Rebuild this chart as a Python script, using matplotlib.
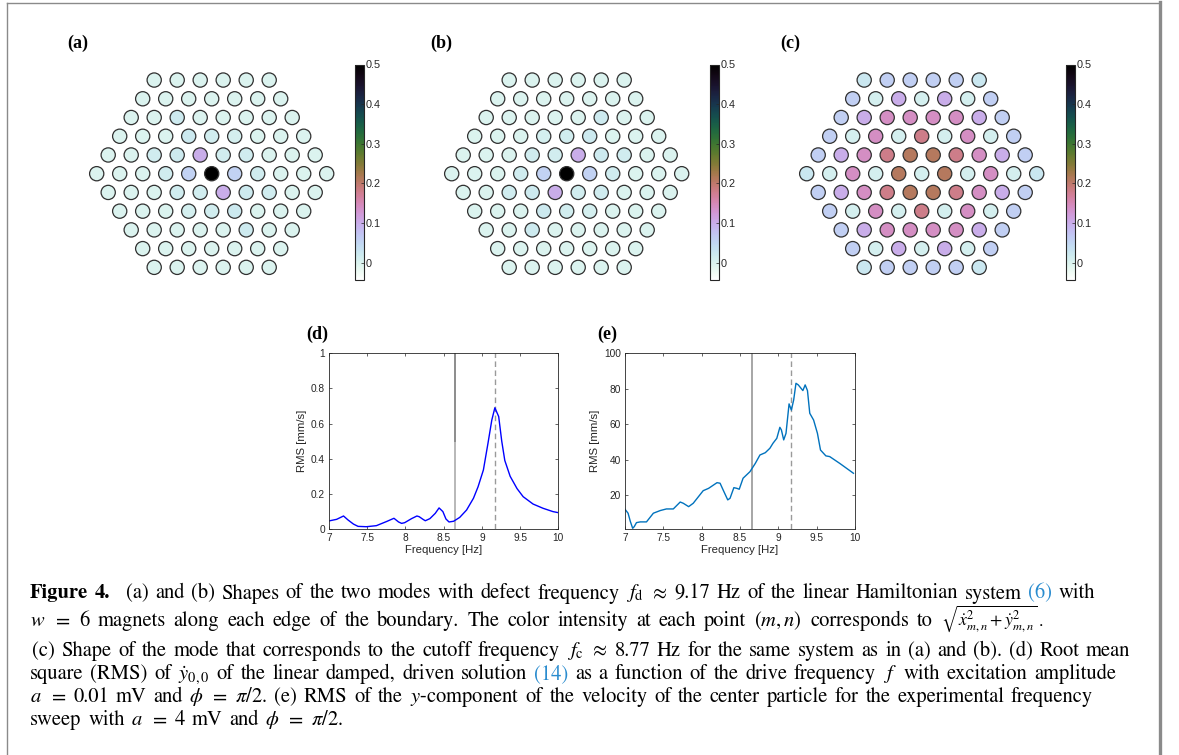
import matplotlib
matplotlib.use("Agg")
import matplotlib.pyplot as plt
from matplotlib.colors import Normalize
from matplotlib.cm import ScalarMappable
from matplotlib.lines import Line2D

plt.rcParams["mathtext.fontset"] = "stix"

W, H = 1179, 755

# ---------------- data ----------------
# hexagonal lattice, w = 6 magnets per edge: rows from top (r=5) to bottom (r=-5)
row_index = [5, 4, 3, 2, 1, 0, -1, -2, -3, -4, -5]

mode_a = [
    [0.0, 0.0, 0.0, 0.0, 0.0, 0.0],
    [0.0, 0.0, 0.0, 0.0, 0.0, 0.0, 0.0],
    [0.0, 0.0, 0.018, 0.0, 0.0, 0.0, 0.0, 0.0],
    [0.0, 0.0, 0.0, 0.02, 0.012, 0.008, 0.0, 0.0, 0.0],
    [0.0, 0.0, 0.015, 0.018, 0.100, 0.012, 0.015, 0.0, 0.0, 0.0],
    [0.0, 0.0, 0.0, 0.015, 0.055, 0.500, 0.055, 0.015, 0.0, 0.0, 0.0],
    [0.0, 0.0, 0.0, 0.015, 0.012, 0.100, 0.018, 0.015, 0.0, 0.0],
    [0.0, 0.0, 0.0, 0.008, 0.012, 0.02, 0.0, 0.0, 0.0],
    [0.0, 0.0, 0.0, 0.0, 0.0, 0.018, 0.0, 0.0],
    [0.0, 0.0, 0.0, 0.0, 0.0, 0.0, 0.0],
    [0.0, 0.0, 0.0, 0.0, 0.0, 0.0],
]

mode_b = [
    [0.0, 0.0, 0.0, 0.0, 0.0, 0.0],
    [0.0, 0.0, 0.0, 0.0, 0.0, 0.0, 0.0],
    [0.0, 0.0, 0.0, 0.0, 0.0, 0.018, 0.0, 0.0],
    [0.0, 0.0, 0.0, 0.008, 0.012, 0.02, 0.0, 0.0, 0.0],
    [0.0, 0.0, 0.0, 0.015, 0.012, 0.100, 0.018, 0.015, 0.0, 0.0],
    [0.0, 0.0, 0.0, 0.015, 0.055, 0.500, 0.055, 0.015, 0.0, 0.0, 0.0],
    [0.0, 0.0, 0.015, 0.018, 0.100, 0.012, 0.015, 0.0, 0.0, 0.0],
    [0.0, 0.0, 0.0, 0.02, 0.012, 0.008, 0.0, 0.0, 0.0],
    [0.0, 0.0, 0.018, 0.0, 0.0, 0.0, 0.0, 0.0],
    [0.0, 0.0, 0.0, 0.0, 0.0, 0.0, 0.0],
    [0.0, 0.0, 0.0, 0.0, 0.0, 0.0],
]

mode_c = [
    [0.025, 0.06, 0.06, 0.06, 0.06, 0.025],
    [0.06, 0.008, 0.10, 0.008, 0.10, 0.008, 0.06],
    [0.06, 0.10, 0.14, 0.14, 0.14, 0.14, 0.10, 0.06],
    [0.06, 0.008, 0.14, 0.008, 0.18, 0.008, 0.14, 0.008, 0.06],
    [0.06, 0.10, 0.14, 0.18, 0.21, 0.21, 0.18, 0.14, 0.10, 0.06],
    [0.025, 0.008, 0.14, 0.008, 0.21, 0.008, 0.21, 0.008, 0.14, 0.008, 0.025],
    [0.06, 0.10, 0.14, 0.18, 0.21, 0.21, 0.18, 0.14, 0.10, 0.06],
    [0.06, 0.008, 0.14, 0.008, 0.18, 0.008, 0.14, 0.008, 0.06],
    [0.06, 0.10, 0.14, 0.14, 0.14, 0.14, 0.10, 0.06],
    [0.06, 0.008, 0.10, 0.008, 0.10, 0.008, 0.06],
    [0.025, 0.06, 0.06, 0.06, 0.06, 0.025],
]

cbar_ticks = [0, 0.1, 0.2, 0.3, 0.4, 0.5]
cbar_labels = ["0", "0.1", "0.2", "0.3", "0.4", "0.5"]

# simulated response of the linear damped driven system
d_freq = [7.0, 7.1, 7.19, 7.25, 7.32, 7.38, 7.49, 7.62, 7.75, 7.85, 7.91, 7.95,
          7.99, 8.08, 8.15, 8.18, 8.23, 8.26, 8.32, 8.39, 8.44, 8.49, 8.53, 8.57,
          8.63, 8.71, 8.8, 8.89, 8.95, 9.02, 9.08, 9.13, 9.17, 9.22, 9.26, 9.3,
          9.37, 9.46, 9.54, 9.67, 9.8, 9.93, 10.0]
d_rms = [0.046, 0.055, 0.074, 0.051, 0.028, 0.015, 0.013, 0.019, 0.042, 0.061, 0.040, 0.032,
         0.036, 0.059, 0.074, 0.070, 0.055, 0.047, 0.059, 0.089, 0.120, 0.099, 0.057, 0.040,
         0.044, 0.066, 0.108, 0.175, 0.240, 0.336, 0.488, 0.620, 0.690, 0.640, 0.500, 0.390,
         0.300, 0.230, 0.184, 0.142, 0.118, 0.099, 0.093]

# experimental frequency sweep
e_freq = [7.0, 7.04, 7.07, 7.1, 7.12, 7.15, 7.2, 7.28, 7.37, 7.46, 7.54, 7.63, 7.72,
          7.76, 7.83, 7.89, 8.02, 8.09, 8.2, 8.24, 8.28, 8.34, 8.37, 8.42, 8.46, 8.49,
          8.54, 8.63, 8.7, 8.76, 8.83, 8.89, 8.93, 8.98, 9.02, 9.04, 9.07, 9.1, 9.14,
          9.17, 9.2, 9.23, 9.26, 9.32, 9.35, 9.38, 9.41, 9.46, 9.51, 9.55, 9.62, 9.67,
          9.8, 9.89, 9.98]
e_rms = [12.1, 9.9, 5.2, 1.4, 2.3, 4.6, 5.0, 5.0, 9.9, 11.4, 12.3, 12.3, 16.2,
         15.5, 13.6, 15.5, 22.6, 23.9, 27.1, 26.8, 23.0, 17.4, 18.3, 24.3, 23.9, 23.4,
         29.6, 33.3, 38.0, 42.7, 44.0, 46.5, 49.3, 52.1, 58.3, 56.8, 51.2, 54.9, 71.5,
         68.0, 73.7, 83.1, 82.2, 79.0, 82.2, 79.0, 66.2, 62.4, 54.9, 45.5, 42.2, 41.8,
         38.0, 35.2, 32.4]

f_cut = 8.65
f_defect = 9.17

# ---------------- figure ----------------
fig = plt.figure(figsize=(W / 100, H / 100), dpi=100)


def rect(left, top, right, bottom):
    return [left / W, 1 - bottom / H, (right - left) / W, (bottom - top) / H]


cmap = plt.get_cmap("cubehelix_r")
norm = Normalize(vmin=-0.044, vmax=0.5)
axis_col = "#262626"
sans = "Liberation Sans"
serif_bold = dict(fontsize=13, fontweight="bold", family="Liberation Serif")


def lattice(ax, values):
    xs, ys, cs = [], [], []
    for r, row in zip(row_index, values):
        n = len(row)
        for i, v in enumerate(row):
            xs.append(i - (n - 1) / 2)
            ys.append(r)
            cs.append(v)
    ax.scatter(xs, ys, c=cs, cmap=cmap, norm=norm, s=105,
               edgecolors="#303030", linewidths=0.9)
    ax.set_xlim(-5.6, 5.6)
    ax.set_ylim(-5.6, 5.6)
    ax.axis("off")


centers = [211.7, 566.7, 921.7]
cbar_left = [355, 710, 1066]
labels_top = ["(a)", "(b)", "(c)"]
label_x = [67, 430, 780]
for k, vals in enumerate([mode_a, mode_b, mode_c]):
    cx = centers[k]
    ax = fig.add_axes(rect(cx - 5.6 * 23, 173.7 - 5.6 * 18.73,
                           cx + 5.6 * 23, 173.7 + 5.6 * 18.73))
    lattice(ax, vals)
    cax = fig.add_axes(rect(cbar_left[k], 64.5, cbar_left[k] + 9, 280))
    cb = fig.colorbar(ScalarMappable(norm=norm, cmap=cmap), cax=cax, ticks=cbar_ticks)
    cb.ax.set_yticklabels(cbar_labels)
    cb.ax.tick_params(labelsize=7.8, length=2, width=0.5, direction="in",
                      colors=axis_col, pad=1.5)
    for t in cb.ax.get_yticklabels():
        t.set_fontfamily(sans)
    cb.outline.set_linewidth(0.8)
    cb.outline.set_edgecolor(axis_col)
    fig.text(label_x[k] / W, 1 - 43 / H, labels_top[k], va="center", ha="left",
             **serif_bold)


def style_axes(ax):
    ax.tick_params(direction="in", length=2.5, width=0.5, labelsize=7.3,
                   colors=axis_col, top=True, right=True, pad=3)
    for s in ax.spines.values():
        s.set_linewidth(0.6)
        s.set_edgecolor(axis_col)
    for t in ax.get_xticklabels() + ax.get_yticklabels():
        t.set_fontfamily(sans)
    ax.set_xlabel("Frequency [Hz]", fontsize=8.2, family=sans,
                  color=axis_col, labelpad=1)
    ax.set_ylabel("RMS [mm/s]", fontsize=8.2, family=sans,
                  color=axis_col, labelpad=3)


freq_ticks = [7, 7.5, 8, 8.5, 9, 9.5, 10]
freq_labels = ["7", "7.5", "8", "8.5", "9", "9.5", "10"]

# (d) simulation
axd = fig.add_axes(rect(329, 353.3, 558.3, 529))
axd.axvline(f_cut, ymin=0, ymax=0.5, color="#b8b8b8", lw=1.4)
axd.axvline(f_cut, ymin=0.5, ymax=1, color="#8c8c8c", lw=1.4)
axd.axvline(f_defect, color="#9a9a9a", lw=1.0, ls=(0, (4, 2.5)))
axd.plot(d_freq, d_rms, color="#0000ff", lw=1.0)
axd.set_xlim(7, 10)
axd.set_ylim(0, 1)
axd.set_xticks(freq_ticks, freq_labels)
axd.set_yticks([0, 0.2, 0.4, 0.6, 0.8, 1], ["0", "0.2", "0.4", "0.6", "0.8", "1"])
style_axes(axd)
fig.text(306 / W, 1 - 334 / H, "(d)", va="center", ha="left", **serif_bold)

# (e) experiment
axe = fig.add_axes(rect(625, 353.3, 855, 529))
axe.axvline(f_cut, color="#a6a6a6", lw=1.4)
axe.axvline(f_defect, color="#9a9a9a", lw=1.0, ls=(0, (4, 2.5)))
axe.plot(e_freq, e_rms, color="#0072bd", lw=1.0)
axe.set_xlim(7, 10)
axe.set_ylim(1, 100)
axe.set_xticks(freq_ticks, freq_labels)
axe.set_yticks([20, 40, 60, 80, 100], ["20", "40", "60", "80", "100"])
style_axes(axe)
fig.text(597 / W, 1 - 334 / H, "(e)", va="center", ha="left", **serif_bold)

# page frame
frame = "#8a8a8a"
fig.add_artist(Line2D([6.5 / W, 1160 / W], [1 - 2.5 / H, 1 - 2.5 / H],
                      transform=fig.transFigure, color=frame, lw=1.0))
fig.add_artist(Line2D([6.5 / W, 6.5 / W], [0, 1 - 2.5 / H],
                      transform=fig.transFigure, color=frame, lw=1.0))
fig.add_artist(Line2D([1160.3 / W, 1160.3 / W], [0, 1 - 2 / H],
                      transform=fig.transFigure, color=frame, lw=2.4))

# ---------------- caption (justified word by word) ----------------
cap_size = 14.8
cap_font = "STIXGeneral"
blue = "#2a8ccf"
renderer = fig.canvas.get_renderer()


def words(s, gap=1.0, **kw):
    out, cur, in_math = [], "", False
    for ch in s:
        if ch == "$":
            in_math = not in_math
        if ch == " " and not in_math:
            if cur:
                out.append(cur)
            cur = ""
        else:
            cur += ch
    if cur:
        out.append(cur)
    return [(w, gap if i == 0 else 1.0, kw) for i, w in enumerate(out)]


def caption_line(base_px, tokens, x_start, x_end):
    arts = []
    for text, g, kw in tokens:
        style = dict(fontsize=cap_size, family=cap_font, va="baseline", ha="left")
        style.update(kw)
        t = fig.text(0, 1 - base_px / H, text, **style)
        arts.append((t, g, t.get_window_extent(renderer).width))
    total_w = sum(a[2] for a in arts)
    total_g = sum(a[1] for a in arts[1:])
    unit = (x_end - x_start - total_w) / total_g
    x = x_start
    for i, (t, g, w) in enumerate(arts):
        if i > 0:
            x += g * unit
        t.set_x(x / W)
        x += w


x0 = 30
caption_line(598.5,
             words("Figure 4.", fontweight="bold")
             + words(r"(a) and (b) Shapes of the two modes with defect frequency "
                     r"$f_\mathrm{d}$ $\approx$ 9.17 Hz of the linear Hamiltonian system", gap=2.4)
             + words("(6)", color=blue) + words("with"),
             x0, 1095)
caption_line(626,
             words(r"$w$ $=$ 6 magnets along each edge of the boundary. The color "
                   r"intensity at each point $(m, n)$ corresponds to")
             + words(r"$\sqrt{\dot{x}^{2}_{m,n} + \dot{y}^{2}_{m,n}}\,$.", fontsize=12.8),
             x0, 1043)
caption_line(656,
             words(r"(c) Shape of the mode that corresponds to the cutoff frequency "
                   r"$f_\mathrm{c}$ $\approx$ 8.77 Hz for the same system as in (a) and (b). "
                   r"(d) Root mean"),
             x0 + 2, 1130)
caption_line(679,
             words(r"square (RMS) of $\dot{y}_{0,0}$ of the linear damped, driven solution")
             + words("(14)", color=blue)
             + words(r"as a function of the drive frequency $f$ with excitation amplitude"),
             x0, 1116)
caption_line(702,
             words(r"$a$ $=$ 0.01 mV and $\phi$ $=$ $\pi/2$. (e) RMS of the $y$-component "
                   r"of the velocity of the center particle for the experimental frequency"),
             x0, 1093)
caption_line(725,
             words(r"sweep with $a$ $=$ 4 mV and $\phi$ $=$ $\pi/2$."),
             x0, 343)

fig.savefig("out.png", dpi=100)
